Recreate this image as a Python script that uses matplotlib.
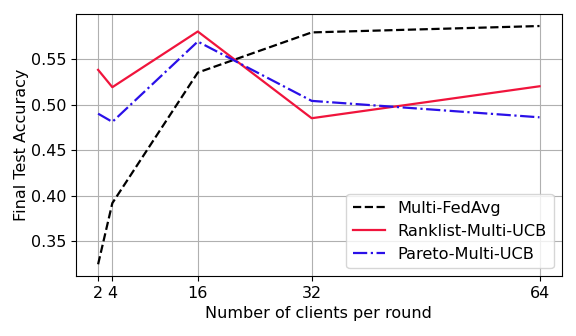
import matplotlib
matplotlib.use("Agg")
import matplotlib.pyplot as plt

clients = [2, 4, 16, 32, 64]
fedavg = [0.325, 0.392, 0.535, 0.579, 0.586]
ranklist = [0.538, 0.519, 0.580, 0.485, 0.520]
pareto = [0.490, 0.481, 0.569, 0.504, 0.486]

plt.rcParams['font.size'] = 11.5
fig, ax = plt.subplots(figsize=(5.76, 3.36), dpi=100)
ax.plot(clients, fedavg, 'k--', lw=1.6, label='Multi-FedAvg')
ax.plot(clients, ranklist, '-', color='#f0143c', lw=1.6, label='Ranklist-Multi-UCB')
ax.plot(clients, pareto, '-.', color='#2a10e8', lw=1.6, label='Pareto-Multi-UCB')
ax.set_xticks(clients)
ax.set_yticks([0.35, 0.40, 0.45, 0.50, 0.55])
ax.grid(True)
ax.set_xlabel('Number of clients per round')
ax.set_ylabel('Final Test Accuracy', labelpad=1)
ax.legend(loc='lower right', fontsize=11.6)
fig.subplots_adjust(left=0.132, right=0.975, top=0.958, bottom=0.178)
fig.savefig('out.png', dpi=100)
